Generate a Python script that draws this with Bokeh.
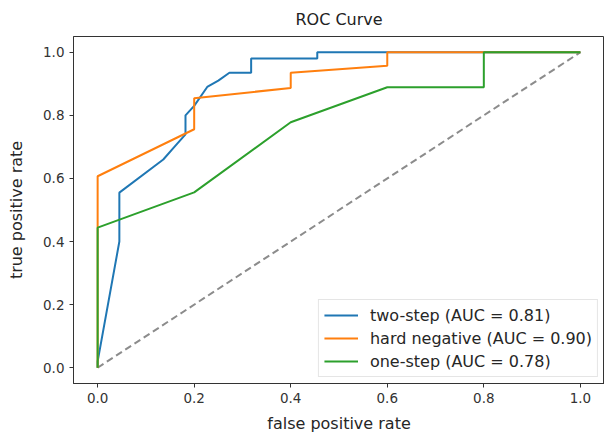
from bokeh.plotting import figure
from bokeh.models import Range1d, FixedTicker, PrintfTickFormatter
from bokeh.embed import file_html
from bokeh.resources import INLINE

# two-step curve
two_step_fpr = [0.0, 0.0, 0.045, 0.045, 0.136, 0.159, 0.182, 0.182, 0.2, 0.227, 0.25, 0.273, 0.318, 0.318, 0.455, 0.455, 1.0]
two_step_tpr = [0.0, 0.02, 0.40, 0.555, 0.66, 0.70, 0.74, 0.80, 0.83, 0.89, 0.91, 0.935, 0.935, 0.98, 0.98, 1.0, 1.0]
# hard negative curve
hard_fpr = [0.0, 0.0, 0.2, 0.2, 0.4, 0.4, 0.6, 0.6, 1.0]
hard_tpr = [0.0, 0.607, 0.756, 0.854, 0.887, 0.935, 0.957, 1.0, 1.0]
# one-step curve
one_fpr = [0.0, 0.0, 0.2, 0.4, 0.6, 0.8, 0.8, 1.0]
one_tpr = [0.0, 0.444, 0.556, 0.778, 0.889, 0.889, 1.0, 1.0]
# chance line
chance = [0.0, 1.0]

labels = ["two-step (AUC = 0.81)", "hard negative (AUC = 0.90)", "one-step (AUC = 0.78)"]
colors = ["#1f77b4", "#ff7f0e", "#2ca02c"]
ticks = [0.0, 0.2, 0.4, 0.6, 0.8, 1.0]

p = figure(width=604, height=435, output_backend="svg", toolbar_location=None,
           x_range=Range1d(-0.05, 1.05), y_range=Range1d(-0.05, 1.05),
           title="ROC Curve", min_border_left=73, min_border_right=0,
           min_border_top=0, min_border_bottom=46)

p.title.align = "center"
p.title.text_font = "DejaVu Sans"
p.title.text_font_size = "16px"
p.title.text_font_style = "normal"
p.title.text_color = "#222222"
p.title.standoff = 15

p.line(chance, chance, line_color="#8c8c8c", line_width=2, line_dash="7 4")
for xs, ys, c, lab in zip([two_step_fpr, hard_fpr, one_fpr], [two_step_tpr, hard_tpr, one_tpr], colors, labels):
    p.line(xs, ys, line_color=c, line_width=2, legend_label=lab)

p.xgrid.visible = False
p.ygrid.visible = False
p.outline_line_color = "#333333"
p.outline_line_width = 1

for ax in (p.xaxis, p.yaxis):
    ax.ticker = FixedTicker(ticks=ticks)
    ax.formatter = PrintfTickFormatter(format="%.1f")
    ax.minor_tick_line_color = None
    ax.major_tick_in = 0
    ax.major_tick_out = 4
    ax.axis_line_color = "#333333"
    ax.major_tick_line_color = "#333333"
    ax.major_label_text_font = "DejaVu Sans"
    ax.major_label_text_font_size = "13.5px"
    ax.major_label_text_color = "#333333"
    ax.axis_label_text_font = "DejaVu Sans"
    ax.axis_label_text_font_size = "16px"
    ax.axis_label_text_font_style = "normal"
    ax.axis_label_text_color = "#262626"

p.xaxis.axis_label = "false positive rate"
p.yaxis.axis_label = "true positive rate"
p.xaxis.axis_label_standoff = 8
p.yaxis.axis_label_standoff = 14

lg = p.legend[0]
lg.location = "bottom_right"
lg.margin = 6
lg.padding = 5
lg.spacing = 3
lg.label_standoff = 12
lg.label_text_font = "DejaVu Sans"
lg.label_text_font_size = "16px"
lg.label_text_color = "#262626"
lg.label_height = 20
lg.glyph_width = 34
lg.glyph_height = 20
lg.border_line_color = "#cccccc"
lg.background_fill_alpha = 0.8

open("out.html", "w").write(file_html(p, INLINE))
